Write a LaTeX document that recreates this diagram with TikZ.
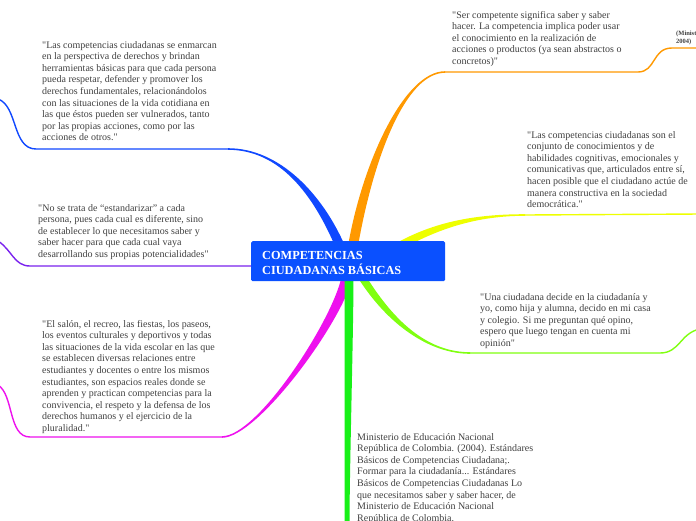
\documentclass[tikz,border=0pt]{standalone}
\usepackage{fontspec}
\setmainfont{Liberation Serif}[Ligatures=TeXOff]
\usetikzlibrary{calc}
\pgfdeclarelayer{bg}
\pgfsetlayers{bg,main}
\definecolor{cblue}{HTML}{0A50FF}
\definecolor{bblue}{HTML}{1048FF}
\definecolor{corange}{HTML}{FF9900}
\definecolor{cyellow}{HTML}{EEFF00}
\definecolor{clime}{HTML}{80FF10}
\definecolor{cgreen}{HTML}{18F018}
\definecolor{cmag}{HTML}{EE11EE}
\definecolor{cpurple}{HTML}{7A22EE}
\definecolor{txtgray}{HTML}{404040}
\newcommand\taper[7]{%
  \fill[#1] ($(#2)+#6$) .. controls ($(#3)+#6$) and ($(#4)+#7$) .. ($(#5)+#7$)
    -- ($(#5)-#7$) .. controls ($(#4)-#7$) and ($(#3)-#6$) .. ($(#2)-#6$) -- cycle;}
\begin{document}
\begin{tikzpicture}[x=1pt,y=-1pt,
  txt/.style={anchor=base west, inner sep=0pt, align=left, font=\fontsize{10}{11.6}\selectfont, text=txtgray},
  ul/.style={line width=1.4pt},
  cbox/.style={anchor=north west, fill=cblue, rounded corners=1.5pt, minimum width=194pt, minimum height=40pt, inner sep=0pt}]
\useasboundingbox (0,0) rectangle (696,520);
\clip (0,0) rectangle (696,520);

% central node
\node[cbox] (c) at (251,241) {};
\node[anchor=base west, inner sep=0pt, align=left, text=white, font=\fontsize{12.3}{15}\selectfont\bfseries] (ct) at (262,274.5) {COMPETENCIAS\\CIUDADANAS BÁSICAS};

% text nodes (anchored at the baseline of their last line)
\node[txt] (ta) at (452,64.4) {"Ser competente significa saber y saber\\hacer. La competencia implica poder usar\\el conocimiento en la realización de\\acciones o productos (ya sean abstractos o\\concretos)"};
\node[anchor=base west, inner sep=0pt, align=left, font=\fontsize{6.5}{7.8}\selectfont\bfseries, text=txtgray] (th) at (676,43.3) {(Ministerio de Educación Nacional,\\2004)};
\node[txt] (tb) at (42,140.8) {"Las competencias ciudadanas se enmarcan\\en la perspectiva de derechos y brindan\\herramientas básicas para que cada persona\\pueda respetar, defender y promover los\\derechos fundamentales, relacionándolos\\con las situaciones de la vida cotidiana en\\las que éstos pueden ser vulnerados, tanto\\por las propias acciones, como por las\\acciones de otros."};
\node[txt] (tc) at (38,257.4) {"No se trata de “estandarizar” a cada\\persona, pues cada cual es diferente, sino\\de establecer lo que necesitamos saber y\\saber hacer para que cada cual vaya\\desarrollando sus propias potencialidades"};
\node[txt] (td) at (42,431.4) {"El salón, el recreo, las fiestas, los paseos,\\los eventos culturales y deportivos y todas\\las situaciones de la vida escolar en las que\\se establecen diversas relaciones entre\\estudiantes y docentes o entre los mismos\\estudiantes, son espacios reales donde se\\aprenden y practican competencias para la\\convivencia, el respeto y la defensa de los\\derechos humanos y el ejercicio de la\\pluralidad."};
\node[txt] (te) at (527,207.6) {"Las competencias ciudadanas son el\\conjunto de conocimientos y de\\habilidades cognitivas, emocionales y\\comunicativas que, articulados entre sí,\\hacen posible que el ciudadano actúe de\\manera constructiva en la sociedad\\democrática."};
\node[txt] (tf) at (480,346.4) {"Una ciudadana decide en la ciudadanía y\\yo, como hija y alumna, decido en mi casa\\y colegio. Si me preguntan qué opino,\\espero que luego tengan en cuenta mi\\opinión"};
\node[txt] (tg) at (357,521.2) {Ministerio de Educación Nacional\\República de Colombia. (2004). Estándares\\Básicos de Competencias Ciudadana;.\\Formar para la ciudadanía... Estándares\\Básicos de Competencias Ciudadanas Lo\\que necesitamos saber y saber hacer, de\\Ministerio de Educación Nacional\\República de Colombia.};

% connector end points
\coordinate (oS) at (353,246);
\coordinate (oE) at (445,72);
\coordinate (oF) at (638,72);
\coordinate (hS) at (672,48);
\coordinate (hE) at (700,48);
\coordinate (bS) at (340,246);
\coordinate (bE) at (228,149);
\coordinate (bF) at (36,149);
\coordinate (bX) at (-2,99);
\coordinate (pS) at (253,266);
\coordinate (pF) at (30,266);
\coordinate (pX) at (-2,241);
\coordinate (mS) at (347,277);
\coordinate (mE) at (222,437);
\coordinate (mF) at (30,437);
\coordinate (mX) at (-2,385);
\coordinate (gS) at (349,277);
\coordinate (gE) at (347,524);
\coordinate (lS) at (362,277);
\coordinate (lE) at (470,353);
\coordinate (lF) at (660,353);
\coordinate (lX) at (700,329);
\coordinate (yS) at (392,250);
\coordinate (yE) at (525,215);
\coordinate (yX) at (700,214);

\begin{pgfonlayer}{bg}
\fill[white] (0,0) rectangle (696,520);
% orange
\taper{corange}{oS}{368,160}{405,72}{oE}{(5,0)}{(0,0.8)}
\draw[ul, corange] (oE) -- (oF) .. controls (656,72) and (652,48) .. (hS) -- (hE);
% blue
\taper{bblue}{bS}{318,195}{280,149}{bE}{(5,0)}{(0,-0.8)}
\draw[ul, bblue] (bE) -- (bF) .. controls (12,149) and (18,106) .. (bX);
% purple
\draw[ul, cpurple] (pS) -- (pF) .. controls (14,266) and (12,250) .. (pX);
% magenta
\taper{cmag}{mS}{338,320}{258,437}{mE}{(5.5,0)}{(0,0.8)}
\draw[ul, cmag] (mE) -- (mF) .. controls (8,437) and (14,395) .. (mX);
% green
\taper{cgreen}{gS}{349,330}{347,470}{gE}{(4.5,0)}{(2.5,0)}
% lime
\taper{clime}{lS}{392,325}{430,353}{lE}{(4.5,0)}{(0,-0.8)}
\draw[ul, clime] (lE) -- (lF) .. controls (680,353) and (680,333) .. (lX);
% yellow
\taper{cyellow}{yS}{430,228}{470,215}{yE}{(0,-4.5)}{(0,-0.8)}
\draw[ul, cyellow] (yE) -- (yX);
\end{pgfonlayer}
\end{tikzpicture}
\end{document}
